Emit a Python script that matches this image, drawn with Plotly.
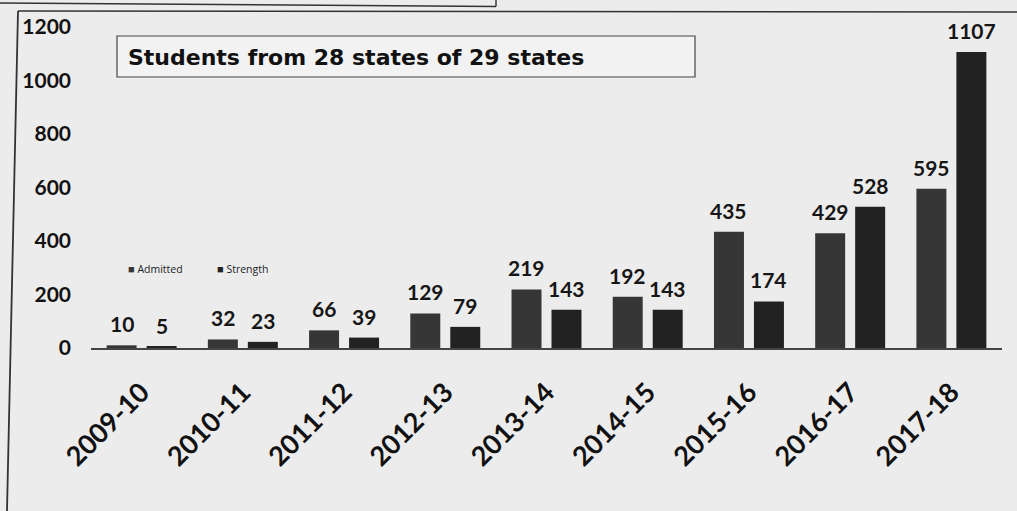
import plotly.graph_objects as go

years = ["2009-10", "2010-11", "2011-12", "2012-13", "2013-14",
         "2014-15", "2015-16", "2016-17", "2017-18"]
admitted = [10, 32, 66, 129, 219, 192, 435, 429, 595]
strength = [5, 23, 39, 79, 143, 143, 174, 528, 1107]
y_ticks = [0, 200, 400, 600, 800, 1000, 1200]
title_text = "Students from 28 states of 29 states"
series_names = ["Admitted", "Strength"]
series_colors = ["#363636", "#222222"]

L, R, T, B = 91, 15, 27, 163
W = 1017 - L - R
H = 511 - T - B

def px(x):
    return (x - L) / W

def py(y):
    return (511 - B - y) / H

lab_font = dict(family="Lato", size=21, color="#161616", weight="bold")

fig = go.Figure()
for name, vals, col, shift in [(series_names[0], admitted, series_colors[0], -20),
                               (series_names[1], strength, series_colors[1], 20)]:
    fig.add_trace(go.Bar(
        x=years, y=vals, name=name, showlegend=False,
        marker=dict(color=col, line=dict(width=0)),
    ))
    for yr, v in zip(years, vals):
        fig.add_annotation(x=yr, y=v, xref="x", yref="y", text=str(v), showarrow=False,
                           xanchor="center", yanchor="bottom", xshift=shift, yshift=7,
                           font=lab_font)

line_col = "#333333"
shapes = [
    # frame lines of the scanned page
    dict(type="line", xref="paper", yref="paper", x0=px(18), x1=px(1017), y0=py(11), y1=py(12),
         line=dict(color=line_col, width=1.6)),
    dict(type="line", xref="paper", yref="paper", x0=px(18), x1=px(7), y0=py(11), y1=py(511),
         line=dict(color=line_col, width=1.8)),
    dict(type="line", xref="paper", yref="paper", x0=px(0), x1=px(496), y0=py(3), y1=py(6.5),
         line=dict(color=line_col, width=1.4)),
    dict(type="line", xref="paper", yref="paper", x0=px(496), x1=px(496), y0=py(0), y1=py(6.5),
         line=dict(color=line_col, width=1.4)),
    # title box
    dict(type="rect", xref="paper", yref="paper", x0=px(117), x1=px(695), y0=py(77), y1=py(36),
         line=dict(color="#444444", width=1.2), fillcolor="rgba(248,248,248,0.5)"),
]

fig.add_annotation(
    xref="paper", yref="paper", x=px(126), y=py(57), xanchor="left", yanchor="middle",
    text=title_text, showarrow=False,
    font=dict(family="DejaVu Sans", size=22, color="#111111", weight="bold"),
)

# legend (small square markers followed by series names)
for name, col, lx in [(series_names[0], series_colors[0], 126), (series_names[1], series_colors[1], 215)]:
    fig.add_annotation(
        xref="paper", yref="paper", x=px(lx), y=py(268), xanchor="left", yanchor="middle",
        text=f"<span style='font-size:11px;color:{col}'>■</span> {name}", showarrow=False,
        font=dict(family="Open Sans", size=10.5, color="#222222"),
    )

fig.update_layout(
    width=1017, height=511,
    margin=dict(l=L, r=R, t=T, b=B, pad=0),
    paper_bgcolor="#ececec", plot_bgcolor="#ececec",
    barmode="group", bargap=0.21, bargroupgap=0.25,
    showlegend=False,
    shapes=shapes,
    xaxis=dict(showgrid=False, showline=True, linecolor="#444444", linewidth=1.5,
               tickangle=-45, ticks="", type="category", ticklabelstandoff=16,
               tickfont=dict(family="Lato", size=27, color="#111111", weight="bold")),
    yaxis=dict(range=[0, 1200], tickvals=y_ticks, showgrid=False, zeroline=False,
               showline=False, ticks="", ticklabelstandoff=19,
               tickfont=dict(family="Lato", size=21, color="#111111", weight="bold")),
)

fig.write_html("out.html", config={"displayModeBar": False},
               post_script="document.body.style.margin='0';")
